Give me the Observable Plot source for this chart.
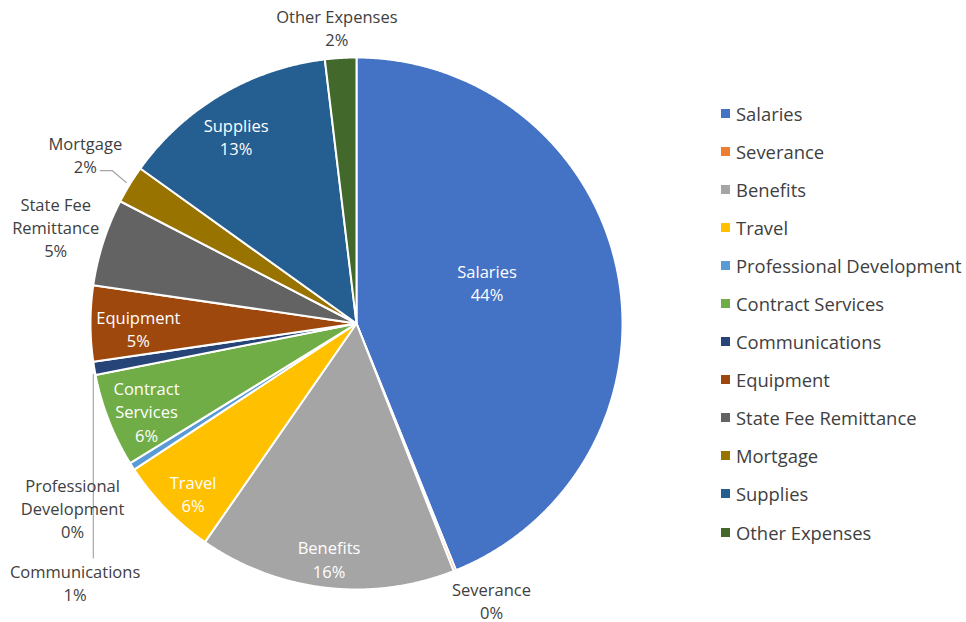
<!DOCTYPE html>
<html>
<head>
<meta charset="utf-8">
<script src="https://cdn.jsdelivr.net/npm/d3@7"></script>
<script src="https://cdn.jsdelivr.net/npm/@observablehq/plot@0.6"></script>
<style>
  html, body { margin: 0; padding: 0; background: #fff; }
  #wrap { position: relative; width: 966px; height: 622px; overflow: hidden; font-family: "Open Sans", sans-serif; }
  #legend { position: absolute; left: 721px; top: 94px; }
  .item { height: 38.1px; display: flex; align-items: center; font-size: 18.4px; color: #404040; white-space: nowrap; }
  .sw { width: 9px; height: 9px; margin-right: 6px; flex: none; }
</style>
</head>
<body>
<div id="wrap"><div id="chart"></div><div id="legend"></div></div>
<script>
// ---- data ----
const categories = ["Salaries", "Severance", "Benefits", "Travel", "Professional Development",
  "Contract Services", "Communications", "Equipment", "State Fee Remittance", "Mortgage",
  "Supplies", "Other Expenses"];
const values = [43.9, 0.15, 15.6, 6.1, 0.45, 5.7, 0.8, 4.6, 5.3, 2.3, 13.2, 1.9];
const labelNames = ["Salaries", "Severance", "Benefits", "Travel", "Professional\nDevelopment",
  "Contract\nServices", "Communications", "Equipment", "State Fee\nRemittance", "Mortgage",
  "Supplies", "Other Expenses"];
const colors = ["#4472C4", "#ED7D31", "#A5A5A5", "#FFC000", "#5B9BD5", "#70AD47",
  "#264478", "#9E480E", "#636363", "#997300", "#255E91", "#43682B"];

// ---- label layout (radius fraction, pixel nudges, inside/outside) ----
const labelR  = [0.50, 1.16, 0.89, 0.89, 1.27, 0.86, 1.10, 0.82, 1.18, 1.20, 0.83, 1.11];
const labelDx = [0, 21, 0, 6, 1, 3, 7, 0, -2, 1, -8, -2];
const labelDy = [-16, -10, 0, 4, 3, 4, 209, 5, -1, -3, 3, -2];
const inside  = [true, false, true, true, false, true, false, true, false, false, true, false];

// ---- geometry ----
const cx = 356, cy = 323, R = 266;
const px = v => v / R;
const total = d3.sum(values);
const arcs = d3.pie().sort(null).value(d => d)(values);

const slicePts = [];
arcs.forEach((a, i) => {
  slicePts.push({cat: categories[i], x: 0, y: 0});
  const n = Math.max(2, Math.ceil((a.endAngle - a.startAngle) / 0.005));
  for (let k = 0; k <= n; k++) {
    const t = a.startAngle + (a.endAngle - a.startAngle) * k / n;
    slicePts.push({cat: categories[i], x: Math.sin(t), y: Math.cos(t)});
  }
});

const labels = arcs.map((a, i) => {
  const m = (a.startAngle + a.endAngle) / 2;
  return {
    cat: categories[i],
    x: labelR[i] * Math.sin(m) + px(labelDx[i]),
    y: labelR[i] * Math.cos(m) - px(labelDy[i]),
    text: labelNames[i] + "\n" + Math.round(values[i] / total * 100) + "%",
    fill: inside[i] ? "white" : "#404040",
    mid: m
  };
});

// leader lines
const leaders = [];
{ // Mortgage
  const i = categories.indexOf("Mortgage"), L = labels[i], m = L.mid;
  leaders.push({g: "m", x: L.x + px(15), y: L.y - px(17)});
  leaders.push({g: "m", x: L.x + px(27), y: L.y - px(17)});
  leaders.push({g: "m", x: 1.015 * Math.sin(m), y: 1.015 * Math.cos(m)});
}
{ // Communications
  const i = categories.indexOf("Communications"), L = labels[i], m = L.mid;
  const ex = Math.sin(m), ey = Math.cos(m);
  leaders.push({g: "c", x: ex - px(1), y: ey - px(6)});
  leaders.push({g: "c", x: ex - px(1), y: L.y + px(24)});
}

const plot = Plot.plot({
  width: 966, height: 622,
  margin: 0,
  x: {domain: [-1, 1], range: [cx - R, cx + R], axis: null},
  y: {domain: [-1, 1], range: [cy + R, cy - R], axis: null},
  color: {domain: categories, range: colors},
  style: {background: "white"},
  marks: [
    Plot.line(slicePts, {x: "x", y: "y", z: "cat", fill: "cat", stroke: "white",
      strokeWidth: 2, strokeLinejoin: "round", curve: "linear-closed"}),
    Plot.line(leaders, {x: "x", y: "y", z: "g", stroke: "#A6A6A6", strokeWidth: 1.2}),
    Plot.text(labels, {x: "x", y: "y", text: "text", fill: d => d.fill,
      fontSize: 16.5, lineHeight: 1.4, fontFamily: "Open Sans", textAnchor: "middle"})
  ]
});
document.getElementById("chart").appendChild(plot);

// legend
const leg = document.getElementById("legend");
categories.forEach((c, i) => {
  const it = document.createElement("div");
  it.className = "item";
  it.innerHTML = `<span class="sw" style="background:${colors[i]}"></span><span>${c}</span>`;
  leg.appendChild(it);
});
</script>
</body>
</html>
